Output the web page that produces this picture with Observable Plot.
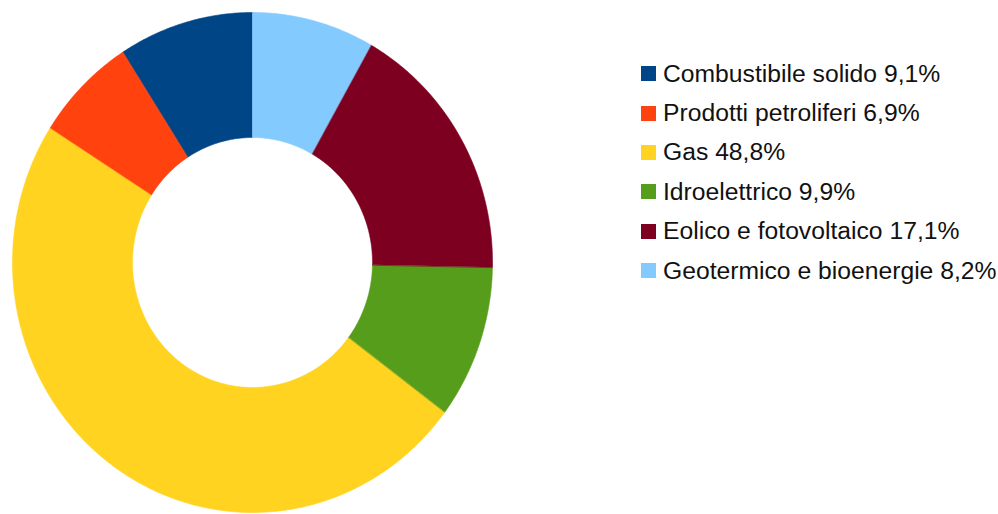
<!DOCTYPE html>
<html>
<head>
<meta charset="utf-8">
<script src="https://cdn.jsdelivr.net/npm/d3@7"></script>
<script src="https://cdn.jsdelivr.net/npm/@observablehq/plot@0.6"></script>
<style>
  html, body { margin: 0; padding: 0; background: #fff; }
  #wrap { position: relative; width: 998px; height: 514px; overflow: hidden; }
  #legend { position: absolute; left: 641px; top: 54px; font-family: "Liberation Sans", Arial, sans-serif; font-size: 24.7px; color: #111; }
  .row { display: flex; align-items: center; height: 39.4px; white-space: nowrap; }
  .sw { width: 15px; height: 15px; margin-right: 7px; flex: none; }
</style>
</head>
<body>
<div id="wrap"><div id="legend"></div></div>
<script>
const categories = ["Combustibile solido", "Prodotti petroliferi", "Gas", "Idroelettrico", "Eolico e fotovoltaico", "Geotermico e bioenergie"];
const shares = [9.1, 6.9, 48.8, 9.9, 17.1, 8.2];
const shareLabels = ["9,1%", "6,9%", "48,8%", "9,9%", "17,1%", "8,2%"];
const colors = ["#004586", "#ff420e", "#ffd320", "#579d1c", "#7e0021", "#83caff"];

// Build ring outlines (unit circle, counterclockwise from top) from the shares
const total = d3.sum(shares);
const innerRatio = 0.5;
const pts = [];
let cum = 0;
categories.forEach((name, i) => {
  const a0 = cum / total * 2 * Math.PI;
  cum += shares[i];
  const a1 = cum / total * 2 * Math.PI;
  const n = Math.max(8, Math.ceil((a1 - a0) / (Math.PI / 360)));
  for (let k = 0; k <= n; k++) {
    const a = a0 + (a1 - a0) * k / n;
    pts.push({name, x: -Math.sin(a), y: Math.cos(a)});
  }
  for (let k = n; k >= 0; k--) {
    const a = a0 + (a1 - a0) * k / n;
    pts.push({name, x: -Math.sin(a) * innerRatio, y: Math.cos(a) * innerRatio});
  }
});

const chart = Plot.plot({
  width: 998,
  height: 514,
  margin: 0,
  x: {domain: [-1, 1], range: [12, 492], axis: null},
  y: {domain: [-1, 1], range: [512, 12], axis: null},
  color: {domain: categories, range: colors},
  marks: [
    Plot.line(pts, {x: "x", y: "y", z: "name", fill: "name", stroke: "name", strokeWidth: 0.6, curve: "linear-closed"})
  ]
});
chart.style.position = "absolute";
chart.style.left = "0";
chart.style.top = "0";
const wrap = document.getElementById("wrap");
wrap.insertBefore(chart, wrap.firstChild);

const legend = document.getElementById("legend");
categories.forEach((c, i) => {
  const row = document.createElement("div");
  row.className = "row";
  const sw = document.createElement("div");
  sw.className = "sw";
  sw.style.background = colors[i];
  const t = document.createElement("span");
  t.textContent = c + " " + shareLabels[i];
  row.appendChild(sw);
  row.appendChild(t);
  legend.appendChild(row);
});
</script>
</body>
</html>
